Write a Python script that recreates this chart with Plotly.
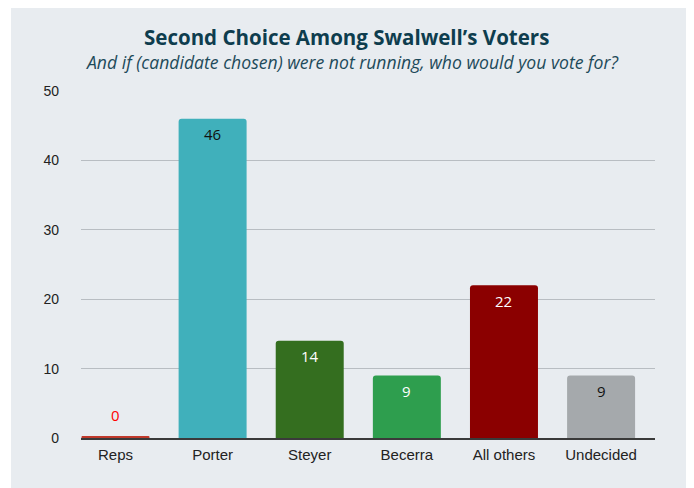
import plotly.graph_objects as go

categories = ["Reps", "Porter", "Steyer", "Becerra", "All others", "Undecided"]
values = [0.2, 46, 14, 9, 22, 9]
value_labels = ["0", "46", "14", "9", "22", "9"]
bar_colors = ["#c0392b", "#40b0bb", "#346e1f", "#2e9e4e", "#8b0000", "#a5a9ac"]
label_colors = ["#ff0000", "#111111", "#ffffff", "#ffffff", "#ffffff", "#111111"]
y_ticks = [0, 10, 20, 30, 40, 50]

title_text = "Second Choice Among Swalwell\u2019s Voters"
subtitle_text = "And if (candidate chosen) were not running, who would you vote for?"

fig = go.Figure()
fig.add_trace(go.Bar(
    x=list(range(len(categories))),
    y=values,
    width=0.7,
    marker=dict(color=bar_colors, line=dict(width=0)),
    hoverinfo="skip",
))

annotations = []
for i, (v, t, c) in enumerate(zip(values, value_labels, label_colors)):
    annotations.append(dict(
        x=i, y=v, xref="x", yref="y", text=t, showarrow=False,
        yanchor="middle", yshift=(22 if v < 1 else -15.5),
        font=dict(family="Open Sans", size=15, color=c),
    ))

annotations.append(dict(
    x=0.4634, y=1.1556, xref="paper", yref="paper", text=title_text,
    showarrow=False, xanchor="center", yanchor="middle",
    font=dict(family="Open Sans", size=20.5, color="#0e3d4e", weight=700),
))
annotations.append(dict(
    x=0.472, y=1.0836, xref="paper", yref="paper", text="<i>" + subtitle_text + "</i>",
    showarrow=False, xanchor="center", yanchor="middle",
    font=dict(family="Open Sans", size=17.6, color="#1d4a5a"),
))

fig.update_layout(
    width=694, height=488,
    margin=dict(l=73, r=47, t=83, b=58),
    paper_bgcolor="#ffffff",
    plot_bgcolor="rgba(0,0,0,0)",
    showlegend=False,
    barcornerradius=3,
    annotations=annotations,
    shapes=[dict(type="rect", xref="paper", yref="paper",
                 x0=-0.122, x1=1.0645, y0=-0.144, y1=1.3,
                 fillcolor="#e8ecf0", line=dict(width=0), layer="below")],
    xaxis=dict(
        range=[-0.355, 5.555],
        tickmode="array", tickvals=list(range(len(categories))), ticktext=categories,
        showgrid=False, zeroline=False,
        showline=True, linecolor="#3a3a3a", linewidth=1.5,
        layer="below traces",
        ticks="", ticklabelstandoff=2,
        tickfont=dict(family="Liberation Sans", size=15, color="#222222"),
        fixedrange=True,
    ),
    yaxis=dict(
        range=[0, 50], tickmode="array", tickvals=y_ticks,
        showgrid=True, gridcolor="#b8bdc2", gridwidth=1,
        zeroline=False, showline=False, ticks="",
        ticklabelstandoff=21,
        tickfont=dict(family="Liberation Sans", size=14, color="#222222"),
        fixedrange=True,
    ),
)

fig.write_html("out.html")
